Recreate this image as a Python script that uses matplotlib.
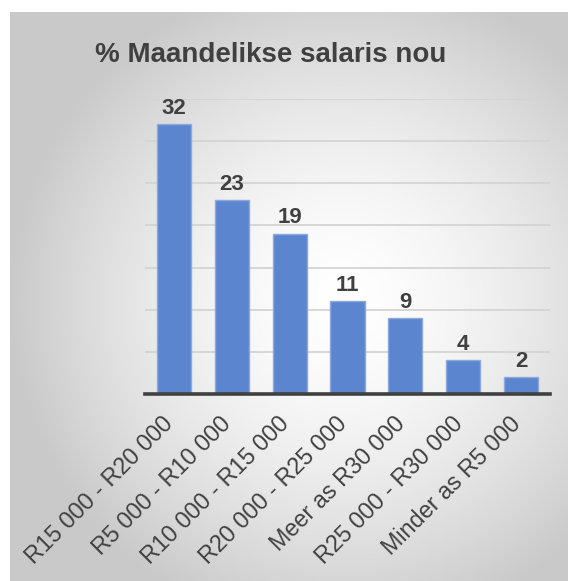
import matplotlib
matplotlib.use('Agg')
import numpy as np
import matplotlib.pyplot as plt
from matplotlib.transforms import ScaledTranslation

# salary bands and percentages
categories = ['R15 000 - R20 000', 'R5 000 - R10 000', 'R10 000 - R15 000',
              'R20 000 - R25 000', 'Meer as R30 000', 'R25 000 - R30 000',
              'Minder as R5 000']
percent = [32, 23, 19, 11, 9, 4, 2]
title = '% Maandelikse salaris nou'

plt.rcParams['font.family'] = ['Liberation Sans', 'DejaVu Sans']

W, H = 568, 581
fig = plt.figure(figsize=(W / 100, H / 100), dpi=100)

# radial grey-to-white background, starting a little in from the top/left
bg = fig.add_axes([10 / W, 0, (W - 10) / W, (H - 12) / H])
bg.set_axis_off()
ny, nx = H - 12, W - 10
yy, xx = np.mgrid[0:ny, 0:nx]
cx, cy = 330, 290
r = np.sqrt(((xx - cx) / 330) ** 2 + ((yy - cy) / 330) ** 2)
v = 1 - 0.21 * np.clip(r, 0, 1) ** 1.6
bg.imshow(np.dstack([v, v, v]), aspect='auto', interpolation='bilinear')

ax = fig.add_axes([145 / W, (H - 394) / H, 405 / W, (394 - 99) / H])
ax.patch.set_alpha(0)
x = np.arange(len(categories))
bars = ax.bar(x, percent, width=0.59, color='#5B86CF', edgecolor='#8EAADC',
              linewidth=1.0, zorder=3)
for b, p in zip(bars, percent):
    ax.annotate(str(p), (b.get_x() + b.get_width() / 2, p), xytext=(0, 4),
                textcoords='offset points', ha='center', va='bottom',
                fontsize=16, fontweight='bold', color='#404040')

ax.set_xlim(-0.5, len(categories) - 0.5)
ax.set_ylim(0, 35)
ax.set_yticks(np.arange(5, 36, 5))
ax.yaxis.grid(True, color='#D4D4D4', linewidth=1.3, zorder=0)
ax.tick_params(axis='y', length=0, labelleft=False)
ax.tick_params(axis='x', length=0, pad=13)
for s in ['top', 'right', 'left']:
    ax.spines[s].set_visible(False)
ax.spines['bottom'].set_color('#404040')
ax.spines['bottom'].set_linewidth(2.6)
ax.spines['bottom'].set_zorder(4)
ax.set_xticks(x)
ax.set_xticklabels(categories, rotation=45, ha='right', fontsize=16.8,
                   color='#404040')
shift = ScaledTranslation(4 / 100, 0, fig.dpi_scale_trans)
for lbl in ax.get_xticklabels():
    lbl.set_transform(lbl.get_transform() + shift)

fig.text(271 / W, 1 - 55 / H, title, ha='center', va='center',
         fontsize=20, fontweight='bold', color='#404040')

fig.savefig('out.png', dpi=100)
